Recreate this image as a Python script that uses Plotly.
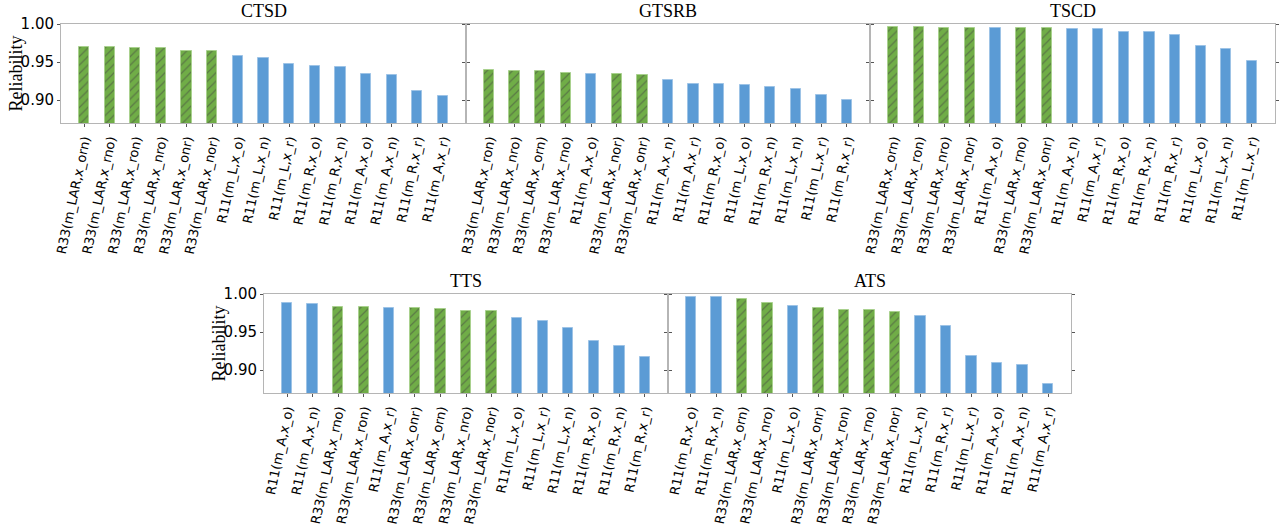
import plotly.graph_objects as go

W, H = 1288, 531

# ---- data ----
ctsd_labels = ["R33(m_LAR,x_orn)", "R33(m_LAR,x_rno)", "R33(m_LAR,x_ron)", "R33(m_LAR,x_nro)",
               "R33(m_LAR,x_onr)", "R33(m_LAR,x_nor)", "R11(m_L,x_o)", "R11(m_L,x_n)",
               "R11(m_L,x_r)", "R11(m_R,x_o)", "R11(m_R,x_n)", "R11(m_A,x_o)",
               "R11(m_A,x_n)", "R11(m_R,x_r)", "R11(m_A,x_r)"]
ctsd_values = [0.970, 0.970, 0.969, 0.968, 0.965, 0.9645, 0.958, 0.955,
               0.948, 0.945, 0.943, 0.934, 0.933, 0.912, 0.905]

gtsrb_labels = ["R33(m_LAR,x_ron)", "R33(m_LAR,x_nro)", "R33(m_LAR,x_orn)", "R33(m_LAR,x_rno)",
                "R11(m_A,x_o)", "R33(m_LAR,x_nor)", "R33(m_LAR,x_onr)", "R11(m_A,x_n)",
                "R11(m_A,x_r)", "R11(m_R,x_o)", "R11(m_L,x_o)", "R11(m_R,x_n)",
                "R11(m_L,x_n)", "R11(m_L,x_r)", "R11(m_R,x_r)"]
gtsrb_values = [0.939, 0.938, 0.9377, 0.936, 0.935, 0.934, 0.933, 0.926,
                0.921, 0.9206, 0.920, 0.9175, 0.914, 0.907, 0.900]

tscd_labels = ["R33(m_LAR,x_orn)", "R33(m_LAR,x_ron)", "R33(m_LAR,x_nro)", "R33(m_LAR,x_nor)",
               "R11(m_A,x_o)", "R33(m_LAR,x_rno)", "R33(m_LAR,x_onr)", "R11(m_A,x_n)",
               "R11(m_A,x_r)", "R11(m_R,x_o)", "R11(m_R,x_n)", "R11(m_R,x_r)",
               "R11(m_L,x_o)", "R11(m_L,x_n)", "R11(m_L,x_r)"]
tscd_values = [0.996, 0.996, 0.995, 0.9947, 0.9947, 0.9947, 0.9947, 0.994,
               0.9934, 0.990, 0.9895, 0.986, 0.9715, 0.967, 0.951]

tts_labels = ["R11(m_A,x_o)", "R11(m_A,x_n)", "R33(m_LAR,x_rno)", "R33(m_LAR,x_ron)",
              "R11(m_A,x_r)", "R33(m_LAR,x_onr)", "R33(m_LAR,x_orn)", "R33(m_LAR,x_nro)",
              "R33(m_LAR,x_nor)", "R11(m_L,x_o)", "R11(m_L,x_r)", "R11(m_L,x_n)",
              "R11(m_R,x_o)", "R11(m_R,x_n)", "R11(m_R,x_r)"]
tts_values = [0.9877, 0.987, 0.9825, 0.9825, 0.9816, 0.981, 0.980, 0.978,
              0.978, 0.969, 0.9645, 0.955, 0.9386, 0.932, 0.9175]

ats_labels = ["R11(m_R,x_o)", "R11(m_R,x_n)", "R33(m_LAR,x_orn)", "R33(m_LAR,x_nro)",
              "R11(m_L,x_o)", "R33(m_LAR,x_onr)", "R33(m_LAR,x_ron)", "R33(m_LAR,x_rno)",
              "R33(m_LAR,x_nor)", "R11(m_L,x_n)", "R11(m_R,x_r)", "R11(m_L,x_r)",
              "R11(m_A,x_o)", "R11(m_A,x_n)", "R11(m_A,x_r)"]
ats_values = [0.9965, 0.996, 0.9934, 0.988, 0.984, 0.982, 0.979, 0.979,
              0.977, 0.9715, 0.958, 0.919, 0.909, 0.9066, 0.8816]

y_ticks = [0.90, 0.95, 1.00]
y_tick_text = ["0.90", "0.95", "1.00"]

GREEN, GREEN_EDGE = "#70AD47", "#A9D18E"
BLUE, BLUE_EDGE = "#5B9BD5", "#9DC3E6"

# panels: title, labels, values, pixel box (left, right, top, bottom), show y labels
panels = [
    ("CTSD", ctsd_labels, ctsd_values, (61, 466, 24, 123), True),
    ("GTSRB", gtsrb_labels, gtsrb_values, (466, 870, 24, 123), False),
    ("TSCD", tscd_labels, tscd_values, (870, 1275, 24, 123), False),
    ("TTS", tts_labels, tts_values, (264, 668, 294, 393), True),
    ("ATS", ats_labels, ats_values, (668, 1071, 294, 393), False),
]

fig = go.Figure()
layout = dict(width=W, height=H, margin=dict(l=0, r=0, t=0, b=0, autoexpand=False),
              paper_bgcolor="white", plot_bgcolor="white", showlegend=False,
              annotations=[], bargap=0)

for i, (title, labels, values, box, show_y) in enumerate(panels, start=1):
    l, r, t, b = box
    xs = list(range(len(labels)))
    green = [lab.startswith("R33") for lab in labels]
    fig.add_trace(go.Bar(
        x=xs, y=values, width=0.4,
        xaxis=f"x{i}", yaxis=f"y{i}",
        marker=dict(
            color=[GREEN if g else BLUE for g in green],
            line=dict(color=[GREEN_EDGE if g else BLUE_EDGE for g in green], width=1),
            pattern=dict(shape=["/" if g else "" for g in green],
                         fgcolor="#1e1e1e", size=6, solidity=0.2),
        ),
        hoverinfo="skip",
    ))
    xa = dict(domain=[l / W, r / W], anchor=f"y{i}", range=[-0.9, 14.9], automargin=False,
              tickmode="array", tickvals=xs, ticktext=labels, tickangle=-78,
              ticks="outside", ticklen=3, tickcolor="#555", showline=True, mirror=True,
              linecolor="#b5b5b5", linewidth=1, showgrid=False, zeroline=False,
              tickfont=dict(family="DejaVu Sans", size=13, color="black"))
    ya = dict(domain=[(H - b) / H, (H - t) / H], anchor=f"x{i}", range=[0.87, 1.0],
              automargin=False,
              tickmode="array", tickvals=y_ticks, ticktext=y_tick_text,
              ticks="outside", ticklen=3, tickcolor="#555", showline=True, mirror="ticks",
              linecolor="#b5b5b5", linewidth=1, showgrid=False, zeroline=False,
              showticklabels=show_y,
              tickfont=dict(family="DejaVu Sans", size=15, color="black"))
    sfx = "" if i == 1 else str(i)
    layout["xaxis" + sfx] = xa
    layout["yaxis" + sfx] = ya
    layout["annotations"].append(dict(
        text=title, x=(l + r) / 2 / W, y=(H - t) / H, xref="paper", yref="paper",
        xanchor="center", yanchor="bottom", yshift=1, showarrow=False,
        font=dict(family="Liberation Serif", size=18, color="black")))
    if show_y:
        layout["annotations"].append(dict(
            text="Reliability", x=(l - 46) / W, y=(H - (t + b) / 2) / H,
            xref="paper", yref="paper", xanchor="center", yanchor="middle",
            textangle=-90, showarrow=False,
            font=dict(family="Liberation Serif", size=18, color="black")))

fig.update_layout(**layout)
fig.write_html("out.html", config={"displayModeBar": False},
               post_script="document.body.style.margin='0';document.body.style.overflow='hidden';")
